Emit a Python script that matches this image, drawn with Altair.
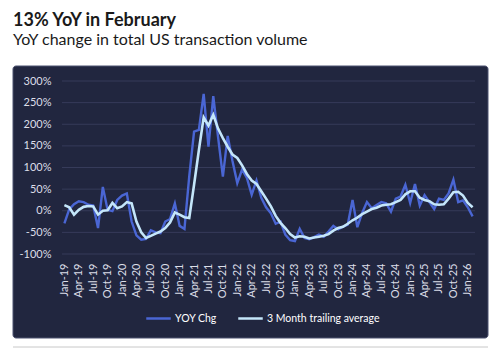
import altair as alt
import pandas as pd

month_names = ["Jan", "Feb", "Mar", "Apr", "May", "Jun",
               "Jul", "Aug", "Sep", "Oct", "Nov", "Dec"]
months = [f"{m}-{y}" for y in range(19, 27) for m in month_names][:86]

yoy = [-29, 3, 15, 22, 20, 14, 12, -40, 55, 2, -1, 25, 35, 40, -25, -57,
       -67, -65, -45, -50, -52, -25, -19, 17, -35, -42, 80, 183, 187, 270,
       148, 265, 170, 79, 173, 115, 64, 95, 76, 37, 70, 30, 8, -6, -30, -25,
       -55, -68, -70, -42, -63, -66, -61, -55, -60, -48, -35, -43, -37, -32,
       25, -38, -5, 20, 6, 13, 20, 17, -2, 28, 33, 60, 18, 62, 12, 36, 20, 4,
       28, 25, 40, 72, 20, 24, 8, -13]

avg3 = [13, 8, -9, 2, 9, 11, 10, -9, 0, 1, 18, 6, 10, 20, 17, -25, -50, -63,
        -58, -53, -48, -40, -27, -4, -9, -15, -17, 60, 140, 216, 197, 222,
        190, 168, 148, 130, 122, 105, 85, 70, 62, 45, 28, 10, -12, -28, -40,
        -54, -62, -59, -60, -64, -62, -60, -58, -54, -46, -40, -37, -30, -22,
        -16, -8, -2, 4, 7, 12, 14, 15, 20, 25, 38, 45, 45, 30, 25, 22, 15, 14,
        15, 28, 43, 44, 35, 18, 8]

series_names = ["YOY Chg", "3 Month trailing average"]
series_colors = ["#4a66d4", "#c4e6fa"]
x_tick_labels = months[::3]
y_ticks = [-100, -50, 0, 50, 100, 150, 200, 250, 300]

df = pd.DataFrame({
    "month": months * 2,
    "series": [series_names[0]] * len(months) + [series_names[1]] * len(months),
    "value": yoy + avg3,
})
grid_df = pd.DataFrame({"value": y_ticks})

W, H = 413, 173
FONT = "Lato"
LABEL_COLOR = "#dcdee8"

y_scale = alt.Scale(domain=[-100, 300], nice=False)
y_axis = alt.Axis(values=y_ticks, labelExpr="datum.value + '%'", title=None,
                  ticks=False, domain=False, grid=False, zindex=2,
                  labelPadding=11, labelFontSize=11,
                  labelColor=LABEL_COLOR, labelFont=FONT)
y_enc = alt.Y("value:Q", scale=y_scale, axis=y_axis)

panel = alt.Chart(alt.Data(values=[{"k": 1}])).mark_rect(
    color="#21263f", cornerRadius=3, stroke="#4d5270", strokeWidth=1
).encode(x=alt.value(-49), x2=alt.value(426), y=alt.value(-15), y2=alt.value(257))

grid = alt.Chart(grid_df).mark_rule(color="#363b5a", strokeWidth=1).encode(
    y=y_enc, x=alt.value(0), x2=alt.value(W),
)

sep_rule = alt.Chart(alt.Data(values=[{"k": 1}])).mark_rule(
    color="#c8c8c8", strokeWidth=1
).encode(x=alt.value(-49), x2=alt.value(426), y=alt.value(266))

source = alt.Chart(alt.Data(values=[{"k": 1}])).mark_text(
    align="left", baseline="top", font=FONT, fontSize=15, color="#222222"
).encode(x=alt.value(-49), y=alt.value(271),
         text=alt.value("Source: MSCI Real Assets, Goldman Sachs Global Investment Research"))

x_enc = alt.X("month:O", sort=months,
              scale=alt.Scale(type="point", padding=0.5),
              axis=alt.Axis(values=x_tick_labels, labelAngle=270, labelAlign="right",
                            labelBaseline="middle", title=None, ticks=False,
                            domain=False, grid=False, labelPadding=9, zindex=2,
                            labelFontSize=11, labelColor=LABEL_COLOR, labelFont=FONT))
color_enc = alt.Color("series:N",
                      scale=alt.Scale(domain=series_names, range=series_colors),
                      legend=alt.Legend(title=None, orient="none", legendX=83, legendY=224,
                                        direction="horizontal", symbolType="stroke",
                                        symbolSize=600, symbolStrokeWidth=2.5,
                                        labelColor="#ffffff", labelFontSize=10.5,
                                        labelFont=FONT, columnPadding=16, labelOffset=3,
                                        zindex=2))

dark_line = alt.Chart(df).transform_filter(
    alt.datum.series == series_names[0]
).mark_line(strokeWidth=2.4).encode(x=x_enc, y=y_enc, color=color_enc)

light_line = alt.Chart(df).transform_filter(
    alt.datum.series == series_names[1]
).mark_line(strokeWidth=2.6).encode(x=x_enc, y=y_enc, color=color_enc)

chart = alt.layer(panel, grid, sep_rule, source, dark_line, light_line).properties(
    width=W, height=H,
    autosize=alt.AutoSizeParams(type="none"),
    padding={"left": 54, "top": 73, "right": 17, "bottom": 98},
    title=alt.Title(
        text=["Exhibit 1: Overall US quarterly transaction volumes down",
              "13% YoY in February"],
        subtitle="YoY change in total US transaction volume",
        anchor="start", frame="group", dx=-49, offset=18,
        font=FONT, fontSize=18, fontWeight="bold", color="#1a1a1a", lineHeight=21,
        subtitleFont=FONT, subtitleFontSize=16, subtitleColor="#1a1a1a",
        subtitlePadding=2,
    ),
).configure_view(stroke=None).configure(background="white")

chart.save("out.html", embed_options={"renderer": "svg", "actions": False})
